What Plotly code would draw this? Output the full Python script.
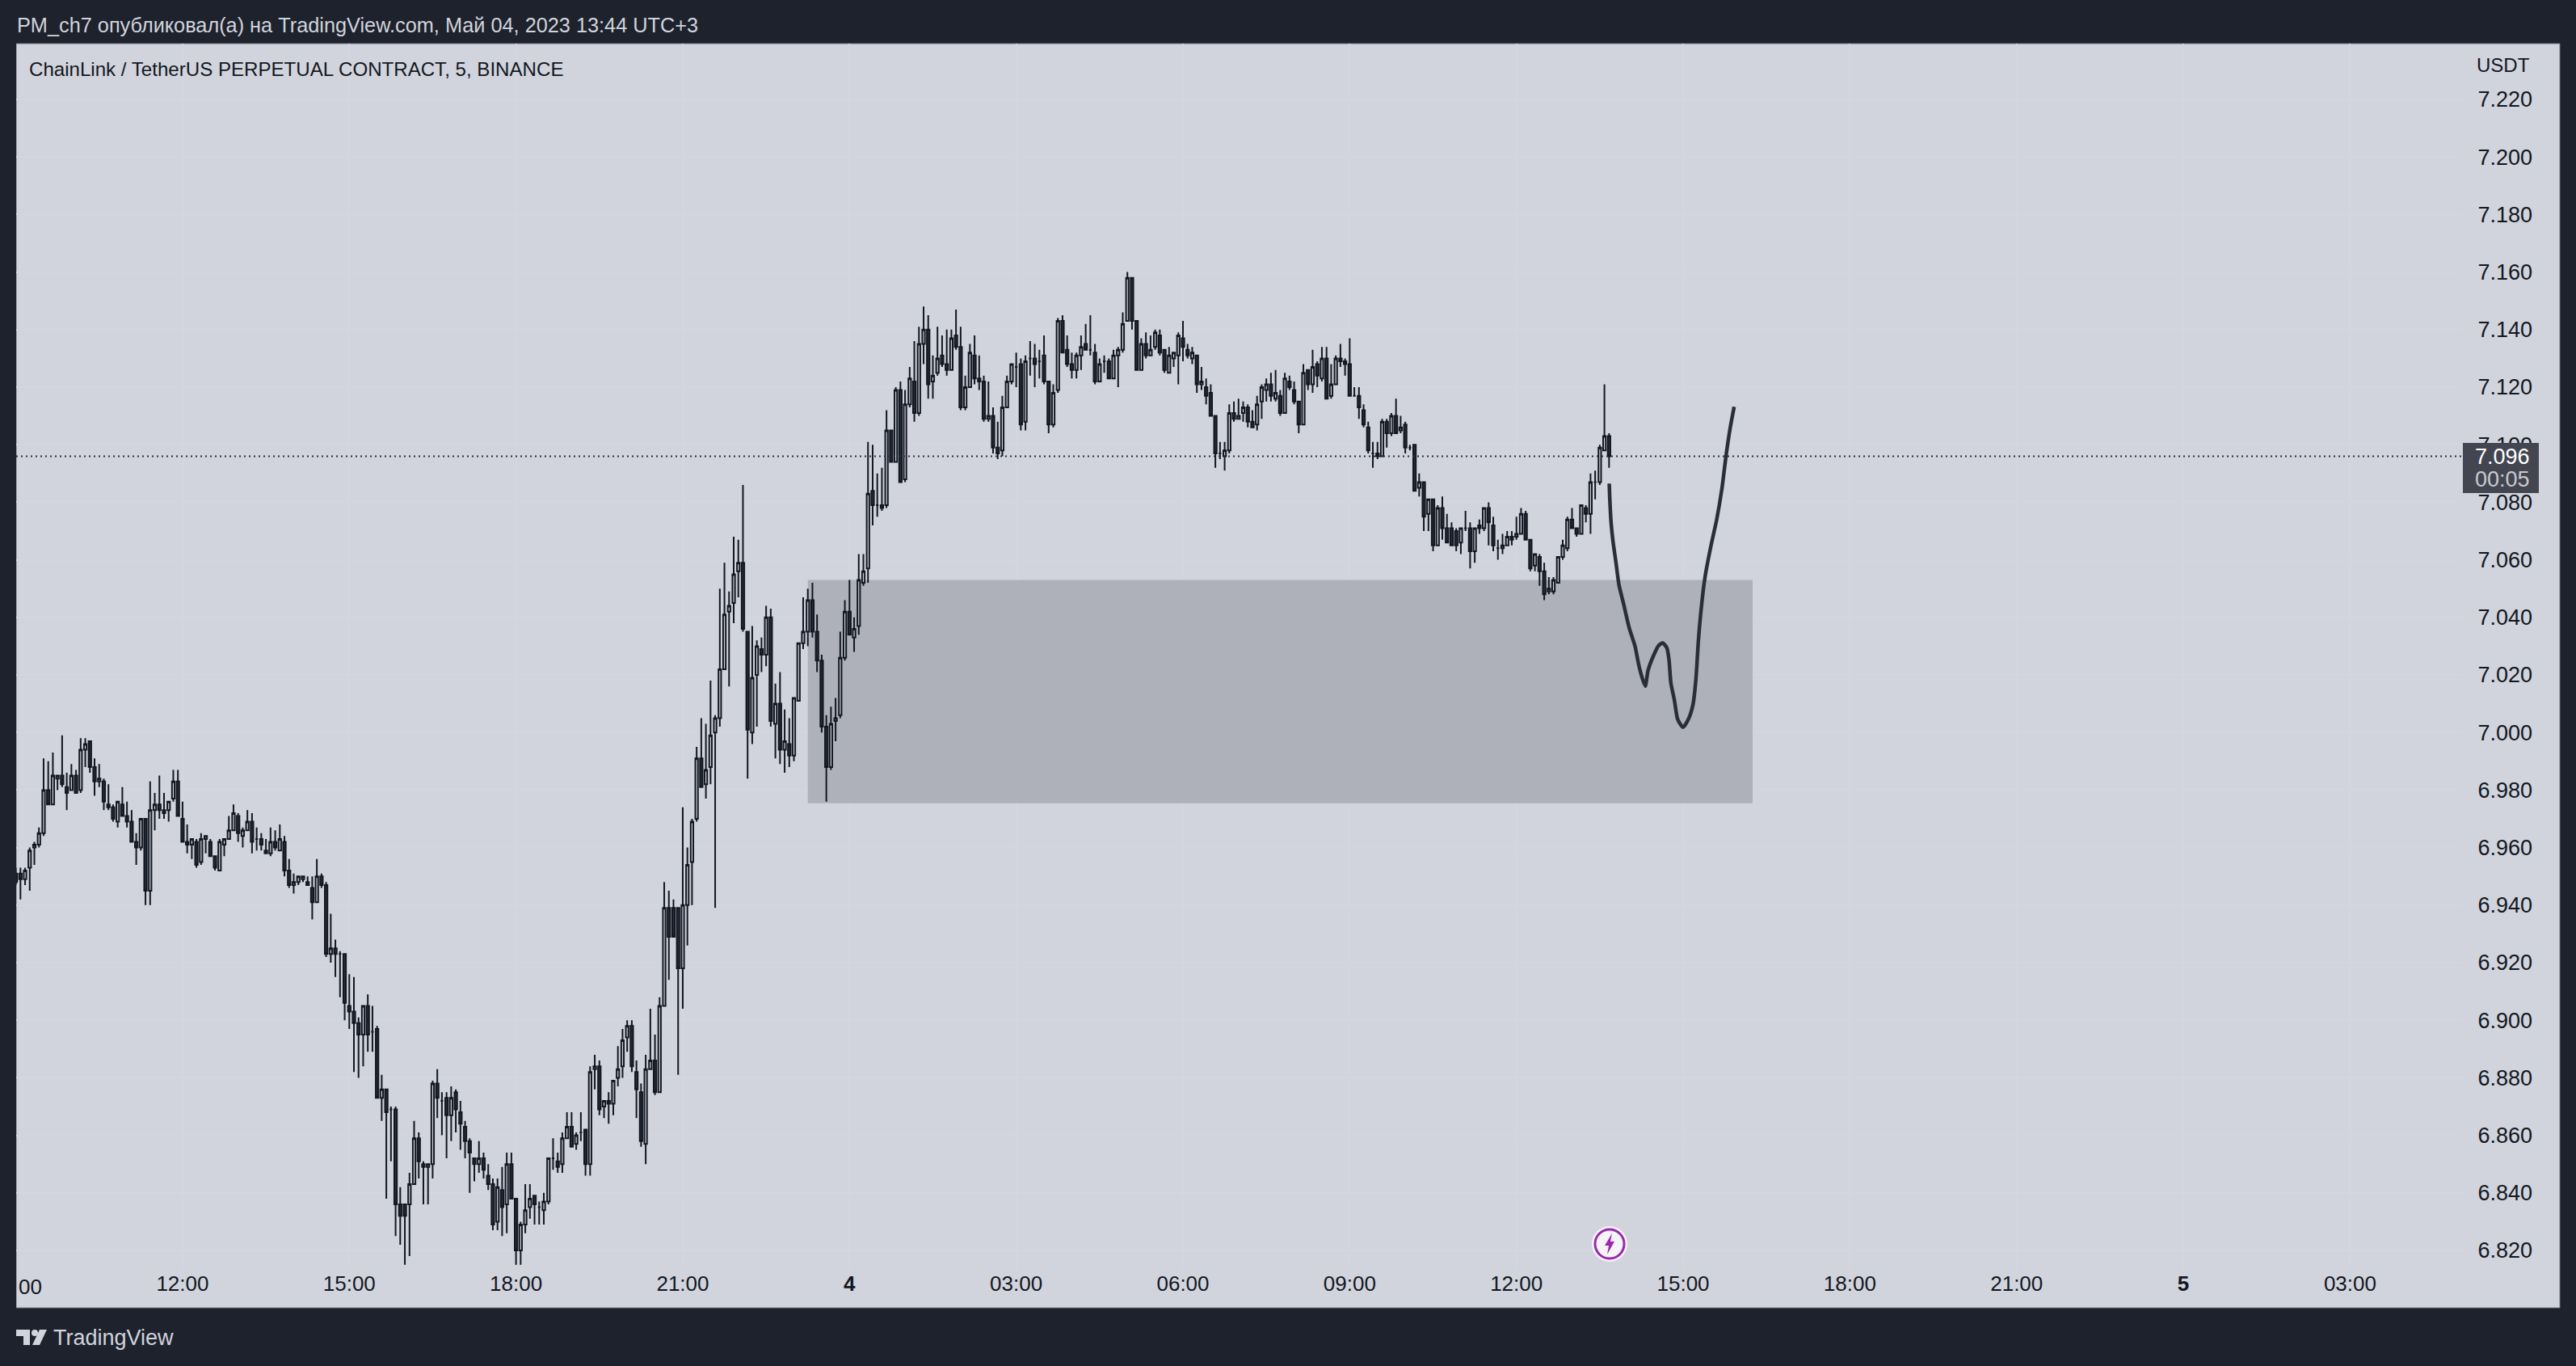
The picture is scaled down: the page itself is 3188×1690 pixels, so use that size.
import plotly.graph_objects as go
import pandas as pd

W, H = 3188, 1690

start_time = "2023-05-03 09:00"
bar_minutes = 5

open_ = [
6.951,6.951,6.949,6.953,6.960,6.961,6.965,6.980,6.975,6.984,
6.985,6.981,6.980,6.985,6.980,6.994,6.997,6.988,6.983,6.983,
6.975,6.974,6.969,6.975,6.971,6.969,6.962,6.960,6.970,6.945,
6.973,6.975,6.973,6.973,6.977,6.983,6.970,6.962,6.961,6.962,
6.955,6.963,6.962,6.957,6.952,6.961,6.963,6.966,6.971,6.964,
6.966,6.969,6.963,6.963,6.959,6.958,6.962,6.959,6.962,6.952,
6.947,6.948,6.949,6.948,6.946,6.941,6.950,6.947,6.923,6.925,
6.923,6.923,6.905,6.903,6.899,6.895,6.905,6.896,6.897,6.873,
6.876,6.869,6.869,6.836,6.836,6.836,6.843,6.859,6.850,6.849,
6.850,6.878,6.872,6.873,6.867,6.875,6.868,6.863,6.858,6.852,
6.850,6.852,6.846,6.843,6.830,6.841,6.836,6.850,6.838,6.820,
6.829,6.835,6.839,6.835,6.834,6.837,6.852,6.851,6.850,6.859,
6.863,6.857,6.861,6.862,6.850,6.883,6.884,6.870,6.872,6.871,
6.880,6.884,6.894,6.898,6.882,6.875,6.857,6.883,6.886,6.875,
6.905,6.939,6.939,6.939,6.918,6.940,6.955,6.970,6.991,6.982,
6.988,7.000,7.005,7.022,7.042,7.045,7.056,7.059,7.035,7.000,
7.020,7.029,7.027,7.040,7.003,7.010,6.994,6.996,6.992,7.011,
7.031,7.035,7.046,7.035,7.025,7.002,6.988,7.004,7.006,7.026,
7.042,7.033,7.037,7.052,7.057,7.084,7.079,7.079,7.079,7.105,
7.094,7.119,7.088,7.114,7.122,7.111,7.135,7.140,7.122,7.125,
7.131,7.128,7.126,7.138,7.134,7.113,7.120,7.131,7.123,7.122,
7.109,7.110,7.099,7.098,7.113,7.122,7.127,7.128,7.108,7.130,
7.130,7.129,7.131,7.122,7.107,7.119,7.143,7.133,7.128,7.126,
7.131,7.135,7.133,7.132,7.122,7.129,7.129,7.123,7.131,7.133,
7.143,7.158,7.143,7.126,7.135,7.131,7.134,7.138,7.133,7.125,
7.130,7.131,7.137,7.133,7.130,7.131,7.121,7.120,7.118,7.110,
7.097,7.096,7.098,7.111,7.109,7.111,7.113,7.108,7.107,7.115,
7.119,7.121,7.116,7.117,7.111,7.122,7.119,7.115,7.107,7.126,
7.121,7.128,7.123,7.130,7.117,7.121,7.130,7.129,7.128,7.117,
7.117,7.112,7.106,7.097,7.097,7.096,7.108,7.104,7.110,7.105,
7.107,7.099,7.100,7.085,7.087,7.076,7.081,7.065,7.078,7.071,
7.071,7.070,7.066,7.071,7.071,7.063,7.072,7.071,7.078,7.072,
7.064,7.064,7.065,7.068,7.068,7.069,7.076,7.067,7.058,7.061,
7.056,7.049,7.049,7.052,7.061,7.064,7.074,7.071,7.069,7.078,
7.076,7.087,7.087,7.098,7.103]

high = [
6.953,6.953,6.953,6.960,6.962,6.967,6.991,6.990,6.993,6.985,
6.999,6.986,6.989,6.987,6.998,6.998,6.997,6.991,6.989,6.984,
6.982,6.975,6.976,6.981,6.976,6.973,6.965,6.970,6.970,6.983,
6.979,6.985,6.979,6.976,6.987,6.987,6.976,6.968,6.963,6.963,
6.965,6.964,6.963,6.957,6.963,6.963,6.971,6.975,6.972,6.967,
6.973,6.972,6.967,6.965,6.963,6.967,6.966,6.968,6.964,6.956,
6.951,6.950,6.950,6.950,6.950,6.956,6.951,6.948,6.937,6.928,
6.924,6.923,6.916,6.915,6.901,6.905,6.909,6.905,6.898,6.881,
6.876,6.870,6.870,6.842,6.836,6.847,6.865,6.861,6.851,6.850,
6.879,6.883,6.875,6.875,6.877,6.876,6.872,6.865,6.859,6.852,
6.858,6.854,6.850,6.845,6.845,6.849,6.854,6.854,6.838,6.830,
6.843,6.843,6.839,6.837,6.840,6.852,6.859,6.854,6.861,6.868,
6.868,6.861,6.868,6.862,6.884,6.888,6.886,6.872,6.875,6.879,
6.891,6.897,6.900,6.900,6.886,6.878,6.888,6.904,6.895,6.908,
6.948,6.945,6.942,6.939,6.974,6.960,6.970,6.995,7.005,7.003,
7.018,7.006,7.050,7.059,7.049,7.068,7.067,7.086,7.035,7.037,
7.032,7.033,7.044,7.043,7.017,7.021,7.008,7.005,7.012,7.031,
7.047,7.050,7.052,7.041,7.027,7.006,7.009,7.012,7.035,7.046,
7.053,7.040,7.062,7.062,7.101,7.100,7.090,7.092,7.112,7.105,
7.120,7.122,7.119,7.127,7.136,7.141,7.148,7.145,7.131,7.141,
7.138,7.140,7.140,7.147,7.141,7.124,7.135,7.138,7.131,7.124,
7.122,7.113,7.108,7.117,7.124,7.128,7.132,7.130,7.131,7.136,
7.135,7.133,7.138,7.122,7.121,7.144,7.145,7.138,7.132,7.132,
7.138,7.142,7.145,7.135,7.130,7.131,7.130,7.133,7.134,7.146,
7.160,7.158,7.143,7.137,7.139,7.138,7.140,7.140,7.133,7.134,
7.132,7.139,7.143,7.135,7.134,7.131,7.127,7.123,7.121,7.110,
7.101,7.101,7.114,7.115,7.116,7.115,7.114,7.112,7.117,7.121,
7.123,7.125,7.126,7.119,7.125,7.124,7.122,7.115,7.128,7.126,
7.133,7.129,7.134,7.134,7.128,7.131,7.135,7.130,7.137,7.120,
7.120,7.114,7.108,7.101,7.101,7.109,7.109,7.111,7.116,7.110,
7.108,7.100,7.100,7.090,7.087,7.081,7.081,7.079,7.082,7.076,
7.073,7.071,7.071,7.077,7.073,7.071,7.074,7.078,7.080,7.075,
7.067,7.069,7.070,7.070,7.075,7.078,7.077,7.067,7.062,7.062,
7.059,7.054,7.054,7.061,7.067,7.075,7.078,7.071,7.079,7.079,
7.090,7.091,7.100,7.121,7.104]

low = [
6.947,6.942,6.947,6.945,6.954,6.960,6.964,6.975,6.975,6.980,
6.981,6.973,6.980,6.979,6.979,6.988,6.986,6.978,6.981,6.973,
6.973,6.969,6.967,6.971,6.967,6.962,6.954,6.959,6.940,6.940,
6.966,6.970,6.970,6.969,6.976,6.971,6.962,6.958,6.956,6.953,
6.954,6.958,6.957,6.952,6.952,6.957,6.963,6.966,6.962,6.960,
6.966,6.958,6.959,6.959,6.958,6.957,6.959,6.959,6.950,6.946,
6.944,6.947,6.948,6.947,6.935,6.941,6.946,6.922,6.920,6.915,
6.908,6.900,6.897,6.882,6.880,6.884,6.889,6.889,6.873,6.865,
6.838,6.851,6.825,6.822,6.815,6.818,6.843,6.845,6.836,6.836,
6.845,6.866,6.860,6.852,6.858,6.861,6.855,6.852,6.840,6.844,
6.847,6.845,6.841,6.827,6.827,6.825,6.826,6.838,6.815,6.815,
6.826,6.831,6.829,6.829,6.829,6.836,6.848,6.847,6.847,6.859,
6.856,6.855,6.858,6.846,6.846,6.876,6.867,6.866,6.864,6.867,
6.877,6.880,6.889,6.882,6.866,6.856,6.850,6.883,6.874,6.875,
6.905,6.914,6.929,6.881,6.904,6.926,6.940,6.969,6.981,6.977,
6.982,6.939,7.002,7.022,7.016,7.038,7.047,7.035,6.984,6.996,
7.002,7.021,7.023,7.002,6.991,6.989,6.986,6.988,6.990,7.011,
7.029,7.030,7.033,7.021,7.000,6.976,6.987,6.997,7.005,7.025,
7.034,7.028,7.034,7.051,7.052,7.072,7.075,7.077,7.078,7.094,
7.094,7.087,7.087,7.113,7.108,7.110,7.128,7.116,7.116,7.124,
7.127,7.124,7.126,7.133,7.112,7.112,7.120,7.121,7.119,7.108,
7.108,7.097,7.095,7.096,7.113,7.121,7.120,7.105,7.105,7.124,
7.120,7.123,7.121,7.104,7.106,7.118,7.132,7.127,7.123,7.123,
7.126,7.133,7.131,7.121,7.122,7.125,7.123,7.123,7.120,7.132,
7.143,7.140,7.126,7.126,7.130,7.131,7.133,7.131,7.125,7.125,
7.127,7.121,7.129,7.130,7.128,7.118,7.119,7.114,7.110,7.092,
7.095,7.091,7.097,7.108,7.109,7.108,7.106,7.106,7.105,7.109,
7.115,7.115,7.115,7.110,7.111,7.119,7.114,7.104,7.107,7.119,
7.118,7.120,7.122,7.116,7.116,7.121,7.127,7.124,7.117,7.117,
7.109,7.106,7.097,7.092,7.095,7.096,7.099,7.103,7.104,7.104,
7.097,7.098,7.084,7.082,7.070,7.070,7.063,7.065,7.067,7.066,
7.065,7.063,7.062,7.070,7.057,7.059,7.069,7.070,7.065,7.063,
7.060,7.062,7.065,7.065,7.067,7.069,7.067,7.056,7.056,7.051,
7.046,7.048,7.048,7.052,7.060,7.063,7.071,7.068,7.069,7.073,
7.069,7.081,7.086,7.098,7.092]

close = [
6.948,6.949,6.952,6.959,6.961,6.965,6.980,6.975,6.985,6.985,
6.982,6.979,6.985,6.979,6.994,6.996,6.988,6.983,6.984,6.976,
6.974,6.970,6.976,6.971,6.969,6.962,6.960,6.970,6.945,6.973,
6.975,6.973,6.972,6.976,6.983,6.971,6.962,6.961,6.963,6.954,
6.963,6.964,6.957,6.953,6.962,6.963,6.966,6.972,6.965,6.966,
6.969,6.962,6.963,6.961,6.958,6.962,6.960,6.963,6.952,6.947,
6.948,6.950,6.950,6.947,6.941,6.950,6.947,6.923,6.925,6.923,
6.923,6.906,6.903,6.899,6.895,6.905,6.895,6.896,6.873,6.876,
6.868,6.869,6.836,6.832,6.832,6.843,6.859,6.851,6.849,6.850,
6.878,6.873,6.872,6.867,6.873,6.869,6.864,6.858,6.854,6.850,
6.852,6.848,6.843,6.829,6.842,6.835,6.850,6.838,6.820,6.829,
6.834,6.838,6.836,6.835,6.837,6.852,6.852,6.849,6.859,6.863,
6.856,6.860,6.861,6.850,6.882,6.884,6.869,6.872,6.871,6.879,
6.883,6.893,6.898,6.884,6.876,6.858,6.883,6.886,6.875,6.905,
6.939,6.929,6.929,6.918,6.940,6.954,6.969,6.991,6.981,6.987,
6.999,7.005,7.022,7.041,7.044,7.055,7.059,7.036,7.001,7.019,
7.030,7.027,7.040,7.004,7.010,6.994,6.997,6.992,7.012,7.031,
7.035,7.046,7.035,7.025,7.002,6.988,7.003,7.005,7.026,7.042,
7.034,7.036,7.053,7.056,7.083,7.079,7.079,7.078,7.105,7.094,
7.119,7.087,7.114,7.123,7.111,7.135,7.140,7.121,7.124,7.130,
7.128,7.126,7.137,7.134,7.113,7.120,7.132,7.123,7.122,7.109,
7.110,7.099,7.097,7.113,7.122,7.128,7.127,7.107,7.129,7.130,
7.128,7.129,7.122,7.107,7.118,7.143,7.132,7.128,7.126,7.131,
7.134,7.133,7.133,7.122,7.128,7.129,7.123,7.131,7.133,7.142,
7.158,7.143,7.126,7.135,7.131,7.133,7.139,7.132,7.126,7.131,
7.132,7.138,7.134,7.131,7.132,7.121,7.122,7.117,7.110,7.097,
7.097,7.098,7.111,7.109,7.110,7.113,7.108,7.106,7.114,7.120,
7.121,7.117,7.118,7.111,7.123,7.120,7.115,7.107,7.125,7.121,
7.127,7.124,7.130,7.116,7.121,7.130,7.129,7.128,7.117,7.117,
7.113,7.107,7.098,7.097,7.096,7.108,7.104,7.110,7.104,7.106,
7.099,7.099,7.084,7.087,7.075,7.081,7.065,7.078,7.071,7.066,
7.065,7.065,7.071,7.071,7.063,7.071,7.071,7.078,7.073,7.065,
7.064,7.065,7.068,7.067,7.069,7.076,7.067,7.057,7.062,7.056,
7.048,7.050,7.053,7.061,7.065,7.074,7.071,7.069,7.079,7.076,
7.087,7.087,7.099,7.103,7.096]

# hand-drawn projection (position in bars from start, price)
sketch_bars = [344.04,344.15,344.44,344.85,345.43,346.13,347.18,348.34,349.62,350.37,351.13,351.83,
               352.41,353.57,354.74,355.61,356.48,356.95,357.35,358.11,358.81,359.97,361.13,362.12,
               362.76,363.28,363.92,364.74,366.07,367.23,368.40,369.27,370.14,371.01]
sketch_prices = [7.0865,7.0814,7.0729,7.0664,7.0598,7.0514,7.0444,7.0364,7.0299,7.0238,7.0191,7.0161,
                 7.0215,7.0266,7.0303,7.0311,7.0294,7.0252,7.0172,7.0112,7.0046,7.0018,7.0046,7.0097,
                 7.0186,7.0317,7.0434,7.0542,7.0654,7.0739,7.0851,7.0963,7.1057,7.1132]

zone_times = ["2023-05-03 23:15", "2023-05-04 16:15"]
zone_prices = [6.9754, 7.0530]
last_price = 7.096

price_ticks = [6.82,6.84,6.86,6.88,6.90,6.92,6.94,6.96,6.98,7.00,7.02,7.04,7.06,7.08,7.10,7.12,7.14,7.16,7.18,7.20,7.22]
time_ticks = ["2023-05-03 12:00","2023-05-03 15:00","2023-05-03 18:00","2023-05-03 21:00",
              "2023-05-04 00:00","2023-05-04 03:00","2023-05-04 06:00","2023-05-04 09:00","2023-05-04 12:00",
              "2023-05-04 15:00","2023-05-04 18:00","2023-05-04 21:00","2023-05-05 00:00","2023-05-05 03:00"]
time_labels = ["12:00","15:00","18:00","21:00","<b>4</b>","03:00","06:00","09:00","12:00",
               "15:00","18:00","21:00","<b>5</b>","03:00"]

BG = "#1e222d"; PANE = "#d1d4dc"; INK = "#131722"; BODY = "#2a2e39"; GRID = "#d3d6de"
FONT = "Liberation Sans"
t0 = pd.Timestamp(start_time)
times = [t0 + pd.Timedelta(minutes=bar_minutes * i) for i in range(len(open_))]
sketch_times = [t0 + pd.Timedelta(minutes=bar_minutes * b) for b in sketch_bars]

def xp(px): return px / W
def yp(py): return 1 - py / H
def rect(x0, y0, x1, y1, **kw):
    return dict(type="rect", xref="paper", yref="paper", x0=xp(x0), x1=xp(x1), y0=yp(y0), y1=yp(y1), **kw)
def circ(cx, cy, r, **kw):
    return dict(type="circle", xref="paper", yref="paper", x0=xp(cx-r), x1=xp(cx+r), y0=yp(cy+r), y1=yp(cy-r), **kw)
def poly(pts, **kw):
    d = "M" + " L".join(f"{xp(a):.6f},{yp(b):.6f}" for a, b in pts) + " Z"
    return dict(type="path", xref="paper", yref="paper", path=d, **kw)

fig = go.Figure()
fig.add_trace(go.Candlestick(
    x=times, open=open_, high=high, low=low, close=close,
    increasing=dict(line=dict(color=INK, width=2), fillcolor=PANE),
    decreasing=dict(line=dict(color=INK, width=2), fillcolor=BODY),
    whiskerwidth=0, hoverinfo="skip", showlegend=False))
fig.add_trace(go.Scatter(
    x=sketch_times, y=sketch_prices, mode="lines",
    line=dict(color=BODY, width=4.5, shape="spline", smoothing=0.6),
    hoverinfo="skip", showlegend=False))

shapes = [
    rect(20, 54, 3168, 1618, fillcolor=PANE, line=dict(color="#787b86", width=1), layer="below"),
    dict(type="rect", xref="x", yref="y", x0=zone_times[0], x1=zone_times[1], y0=zone_prices[0], y1=zone_prices[1],
         fillcolor="#aeb1ba", line=dict(width=0), layer="between"),
    dict(type="line", xref="paper", yref="y", x0=xp(20), x1=xp(3048), y0=last_price, y1=last_price,
         line=dict(color=BODY, width=2, dash="2px,4px"), layer="above"),
    rect(0, 54, 20, 1618, fillcolor=BG, line=dict(width=0), layer="above"),
    rect(3048, 548, 3142, 610, fillcolor="#434651", line=dict(width=0), layer="above"),
    circ(1992, 1539, 22, fillcolor="#f5f5f8", line=dict(width=0), layer="above"),
    circ(1992, 1539, 18, fillcolor="#f5f5f8", line=dict(color="#9c27b0", width=3), layer="above"),
    poly([(1995,1526),(1986,1541),(1991,1541),(1989,1552),(1998,1536),(1993,1536)],
         fillcolor="#9c27b0", line=dict(width=0), layer="above"),
    # TradingView mark
    poly([(20,1645),(37,1645),(37,1664),(29,1664),(29,1653),(20,1653)],
         fillcolor="#d1d4dc", line=dict(width=0), layer="above"),
    circ(43, 1649, 4, fillcolor="#d1d4dc", line=dict(width=0), layer="above"),
    poly([(49,1645),(58,1645),(49,1664),(40,1664)], fillcolor="#d1d4dc", line=dict(width=0), layer="above"),
]

def note(text, px, py, anchor="left", color=INK, size=26):
    return dict(text=text, xref="paper", yref="paper", x=xp(px), y=yp(py), xanchor=anchor, yanchor="middle",
                showarrow=False, font=dict(family=FONT, size=size, color=color))

annotations = [
    note("PM_ch7 опубликовал(а) на TradingView.com, Май 04, 2023 13:44 UTC+3", 19, 31, color="#d1d4dc", size=25.3),
    note("ChainLink / TetherUS PERPETUAL CONTRACT, 5, BINANCE", 34, 85, size=24.1),
    note("USDT", 3133, 80, anchor="right", size=24),
    note("7.096", 3133, 565, anchor="right", color="#ffffff", size=27),
    note("00:05", 3133, 593, anchor="right", color="#c8c9cf", size=27),
    note("TradingView", 64, 1655, color="#d1d4dc", size=27),
    note("00", 21, 1592, size=26),
]

top, bottom = 54, 1570
left, right = 19, 3048
fig.update_layout(
    width=W, height=H, autosize=False,
    margin=dict(l=0, r=0, t=0, b=0, autoexpand=False),
    paper_bgcolor=BG, plot_bgcolor="rgba(0,0,0,0)",
    font=dict(family=FONT, size=26, color=INK),
    showlegend=False, shapes=shapes, annotations=annotations, boxgap=0.2,
    xaxis=dict(domain=[xp(left), xp(right)], type="date",
               range=["2023-05-03 08:59:30", "2023-05-05 05:01:45"],
               tickmode="array", tickvals=time_ticks, ticktext=time_labels, tickangle=0,
               showgrid=True, gridcolor=GRID, gridwidth=1.5, zeroline=False, showline=False,
               ticks="",
               rangeslider=dict(visible=False), tickfont=dict(family=FONT, size=26, color=INK)),
    yaxis=dict(domain=[yp(bottom), yp(top)], side="right", anchor="x",
               range=[7.22 - (bottom - 123) / 3560, 7.22 + (123 - top) / 3560],
               tickmode="array", tickvals=price_ticks, ticktext=[f"{v:.3f}" for v in price_ticks],
               showgrid=True, gridcolor=GRID, gridwidth=1.5, zeroline=False, showline=False,
               ticks="outside", ticklen=12, tickcolor="rgba(0,0,0,0)",
               tickfont=dict(family=FONT, size=27, color=INK)),
)

fig.write_html("out.html", config=dict(displayModeBar=False),
               post_script="document.body.style.margin='0';document.body.style.overflow='hidden';")
